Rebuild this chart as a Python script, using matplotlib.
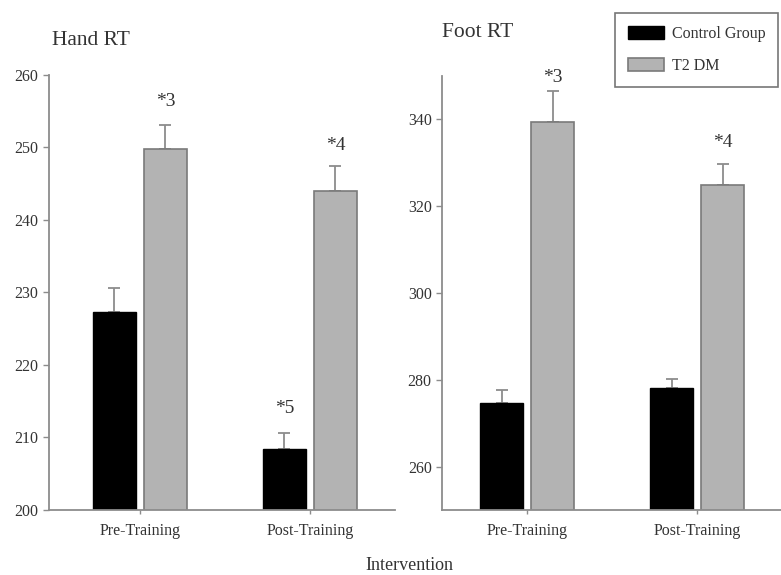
import matplotlib.pyplot as plt

# data
groups = ["Pre-Training", "Post-Training"]
series = ["Control Group", "T2 DM"]

hand_control = [227.3, 208.4]
hand_control_err = [3.3, 2.2]
hand_t2dm = [249.8, 244.0]
hand_t2dm_err = [3.3, 3.4]

foot_control = [274.7, 278.0]
foot_control_err = [2.9, 2.1]
foot_t2dm = [339.3, 324.9]
foot_t2dm_err = [7.3, 4.8]

# significance marks: (group index, series index, text, y value)
hand_marks = [(0, 1, "*3", 256.3), (1, 1, "*4", 250.2), (1, 0, "*5", 214.0)]
foot_marks = [(0, 1, "*3", 349.6), (1, 1, "*4", 334.6)]

plt.rcParams['font.family'] = ['Liberation Serif', 'DejaVu Serif']

black = "#000000"
grey = "#b3b3b3"
grey_edge = "#7a7a7a"
axis_col = "#8c8c8c"
text_col = "#333333"
width = 0.25
offs = [-0.15, 0.15]


def panel(ax, ctrl, ctrl_err, t2, t2_err, marks, ylim, yticks, xlim):
    x = list(range(len(groups)))
    ax.bar([v + offs[0] for v in x], ctrl, width, color=black, edgecolor=black,
           linewidth=1, label=series[0], zorder=2)
    ax.bar([v + offs[1] for v in x], t2, width, color=grey, edgecolor=grey_edge,
           linewidth=1.2, label=series[1], zorder=2)
    ax.errorbar([v + offs[0] for v in x], ctrl, yerr=[[0] * len(x), ctrl_err],
                fmt="none", ecolor=axis_col, elinewidth=1.3, capsize=4, capthick=1.3, zorder=1)
    ax.errorbar([v + offs[1] for v in x], t2, yerr=[[0] * len(x), t2_err],
                fmt="none", ecolor=axis_col, elinewidth=1.3, capsize=4, capthick=1.3, zorder=1)
    for gi, si, txt, yv in marks:
        ax.text(gi + offs[si], yv, txt, ha="center", va="center", fontsize=14, color=text_col)
    ax.set_ylim(*ylim)
    ax.set_xlim(*xlim)
    ax.set_yticks(yticks)
    ax.set_xticks(x)
    ax.set_xticklabels(groups)
    for s in ["top", "right"]:
        ax.spines[s].set_visible(False)
    for s in ["left", "bottom"]:
        ax.spines[s].set_color(axis_col)
        ax.spines[s].set_linewidth(1.3)
    ax.tick_params(axis="y", colors=axis_col, labelcolor=text_col, labelsize=11.5,
                   length=4, width=1)
    ax.tick_params(axis="x", colors=axis_col, labelcolor=text_col, labelsize=11.5,
                   length=3, width=1, pad=6)


fig = plt.figure(figsize=(7.81, 5.75), dpi=100)
ax1 = fig.add_axes([0.0627, 0.113, 0.443, 0.757])
ax2 = fig.add_axes([0.566, 0.113, 0.434, 0.755])

panel(ax1, hand_control, hand_control_err, hand_t2dm, hand_t2dm_err, hand_marks,
      (200, 260), [200, 210, 220, 230, 240, 250, 260], (-0.535, 1.5))
panel(ax2, foot_control, foot_control_err, foot_t2dm, foot_t2dm_err, foot_marks,
      (250, 350), [260, 280, 300, 320, 340], (-0.5, 1.494))

fig.text(0.067, 0.930, "Hand RT", fontsize=15.5, color=text_col, ha="left", va="center")
fig.text(0.566, 0.943, "Foot RT", fontsize=15.5, color=text_col, ha="left", va="center")
fig.text(0.524, 0.017, "Intervention", fontsize=13, color=text_col, ha="center", va="center")

handles, labels = ax2.get_legend_handles_labels()
leg = fig.legend(handles, labels, loc="upper right", bbox_to_anchor=(778 / 781, 1 - 13 / 575),
                 frameon=True, fancybox=False, fontsize=11.5, handlelength=2.3,
                 handleheight=0.85, borderpad=0.8, labelspacing=1.0, handletextpad=0.45,
                 borderaxespad=0)
leg.get_frame().set_edgecolor("#555555")
leg.get_frame().set_linewidth(1.2)
for t in leg.get_texts():
    t.set_color(text_col)

fig.savefig("out.png", dpi=100)
